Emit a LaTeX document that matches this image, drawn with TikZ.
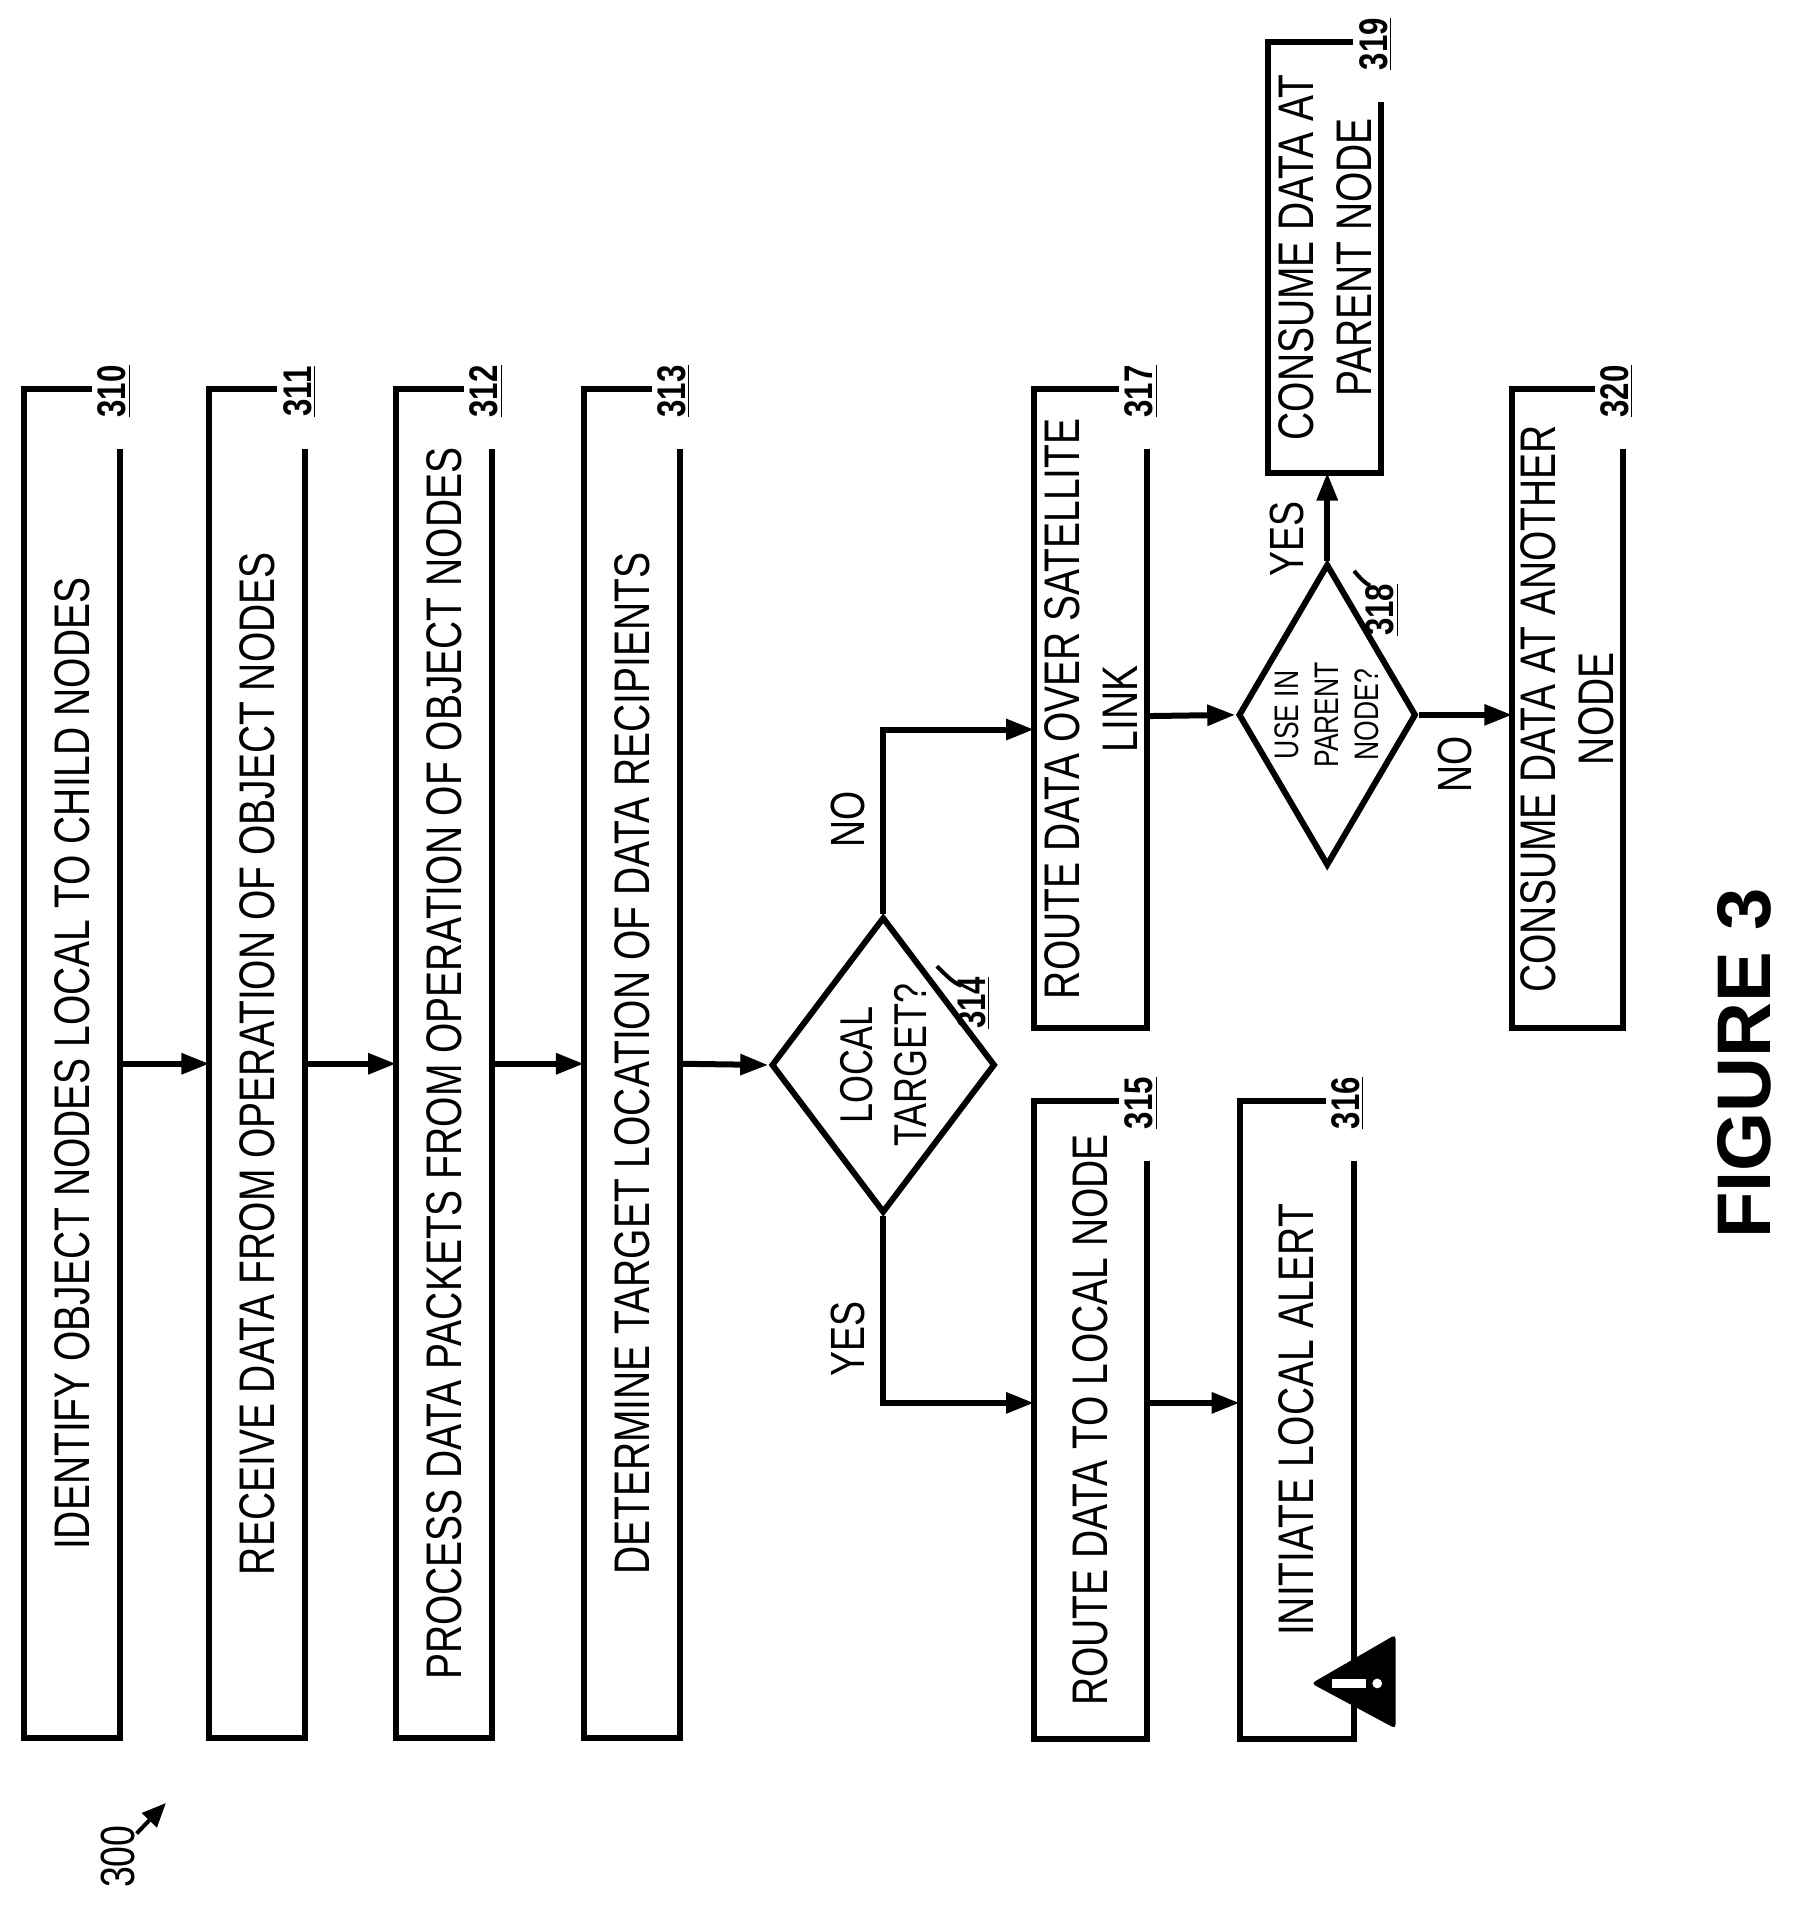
\documentclass[tikz,border=0pt]{standalone}
\usepackage{fontspec}
\setmainfont{Liberation Sans}
\newfontfamily\nar[FakeStretch=0.78]{Liberation Sans}
\usetikzlibrary{shapes.geometric,arrows.meta,calc}
\begin{document}
\begin{tikzpicture}[x=0.61pt,y=-0.61pt,
  ln/.style={line width=3pt},
  arr/.style={ln,-{Triangle[length=14pt,width=10pt]}},
  txt/.style={rotate=90,align=center,font=\nar\fontsize{25}{29}\selectfont,inner sep=0},
  num/.style={rotate=90,font=\nar\bfseries\fontsize{20}{22}\selectfont,inner sep=0},
  yn/.style={rotate=90,font=\nar\fontsize{24}{26}\selectfont,inner sep=0}]
\useasboundingbox (0,0) rectangle (1470,1569);
\newcommand\mybox[7]{%
  \node[inner sep=0,minimum width=#4*0.61pt,minimum height=#5*0.61pt] (#1) at (#2,#3) {};
  \node[txt] at (#1) {#6};
  \draw[ln,line join=miter] ([xshift=-14pt]#1.north east) -- (#1.north west) -- (#1.south west) -- (#1.south east) -- ([yshift=-30pt]#1.north east);
  \node[num] at ([xshift=-3pt,yshift=-1pt]#1.north east) {\underline{#7}};}
\mybox{b310}{59}{872}{78}{1105}{IDENTIFY OBJECT NODES LOCAL TO CHILD NODES}{310}
\mybox{b311}{211}{872}{78}{1105}{RECEIVE DATA FROM OPERATION OF OBJECT NODES}{311}
\mybox{b312}{364}{872}{78}{1105}{PROCESS DATA PACKETS FROM OPERATION OF OBJECT NODES}{312}
\mybox{b313}{518}{872}{78}{1105}{DETERMINE TARGET LOCATION OF DATA RECIPIENTS}{313}
\mybox{b315}{894}{1164}{92}{522}{ROUTE DATA TO LOCAL NODE}{315}
\mybox{b316}{1063}{1164}{93}{522}{INITIATE LOCAL ALERT}{316}
\mybox{b317}{894}{581}{92}{523}{ROUTE DATA OVER SATELLITE\\LINK}{317}
\mybox{b319}{1086}{211}{92}{352}{CONSUME DATA AT\\PARENT NODE}{319}
\mybox{b320}{1285}{581}{90}{523}{CONSUME DATA AT ANOTHER\\NODE}{320}
% diamonds
\node[diamond,draw,ln,inner sep=0,minimum width=112pt,minimum height=148pt] (d314) at (724,873) {};
\node[txt,font=\nar\fontsize{23}{27}\selectfont] at (724,873) {LOCAL\\TARGET?};
\node[num] at (798,822) {\underline{314}};
\draw[line width=2pt] (768,792) .. controls (776,800) and (782,806) .. (788,808);
\node[num] at (1133,500) {\underline{318}};
\node[diamond,draw,ln,inner sep=0,minimum width=89pt,minimum height=151pt] (d318) at (1088,586) {};
\node[txt,font=\nar\fontsize{17}{20}\selectfont] at (1088,586) {USE IN\\PARENT\\NODE?};
\draw[line width=2pt] (1110,468) .. controls (1115,474) and (1119,478) .. (1123,480);
% arrows
\draw[arr] (b310.east) -- (b311.west);
\draw[arr] (b311.east) -- (b312.west);
\draw[arr] (b312.east) -- (b313.west);
\draw[arr] (b313.east) -- (d314.west);
\draw[arr] (d314.north) |- (b317.west |- 0,598);
\draw[arr] (d314.south) |- (b315.west |- 0,1150);
\draw[arr] (b315.east |- 0,1150) -- (b316.west |- 0,1150);
\draw[arr] (b317.east |- 0,587) -- (d318.west);
\draw[arr] (d318.north) -- (b319.south -| d318.north);
\draw[arr] (d318.east) -- (b320.west |- d318.east);
\node[yn] at (695,672) {NO};
\node[yn] at (695,1098) {YES};
\node[yn] at (1055,442) {YES};
\node[yn] at (1193,627) {NO};
% warning
\fill[rounded corners=2pt] (1075,1380) -- (1144,1340) -- (1144,1417) -- cycle;
\fill[white] (1092,1376) rectangle (1120,1384);
\fill[white] (1129,1380) circle (4);
% figure
\node[rotate=90,font=\bfseries\fontsize{38}{40}\selectfont,inner sep=0] (fig) at (1430,872) {FIGURE 3};
\node[rotate=90,font=\nar\fontsize{24}{26}\selectfont,inner sep=0] (n300) at (97,1522) {300};
\coordinate (t300) at (136,1478);
\draw[line width=2pt,-{Triangle[length=12pt,width=10pt]}] (112,1503) -- (t300);
\end{tikzpicture}
\end{document}
